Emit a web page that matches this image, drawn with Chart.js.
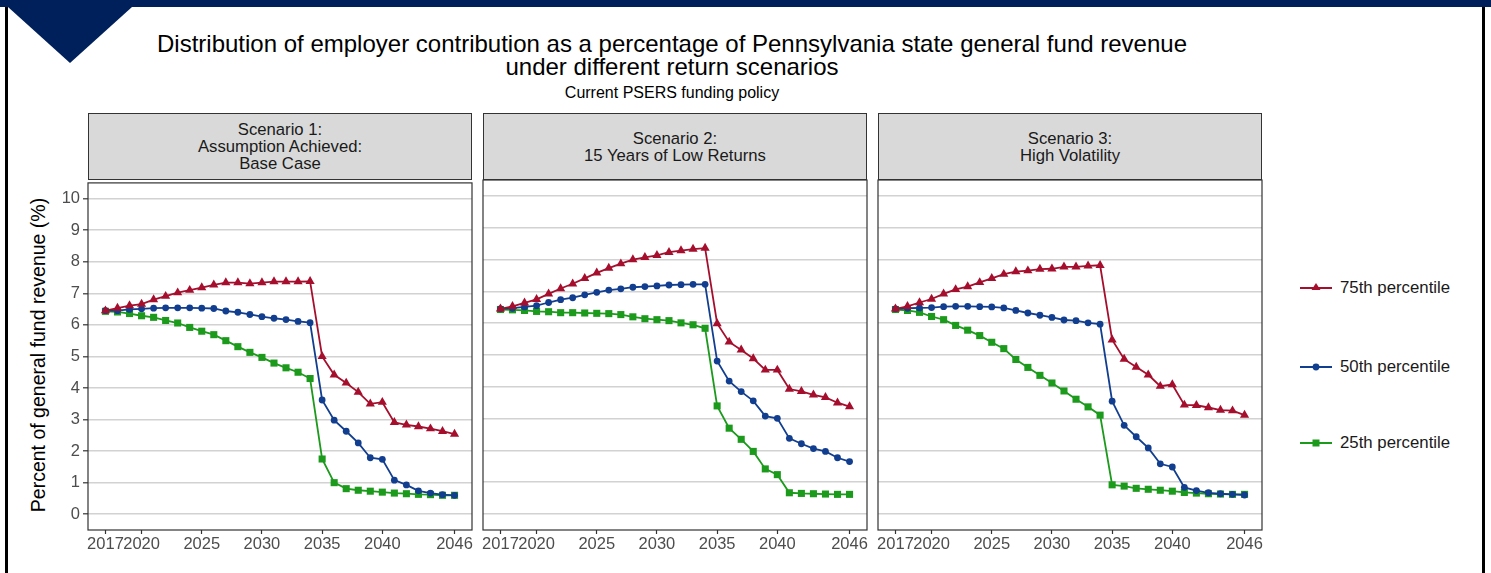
<!DOCTYPE html>
<html>
<head>
<meta charset="utf-8">
<script src="https://cdn.jsdelivr.net/npm/chart.js@4.4.0/dist/chart.umd.min.js"></script>
<style>
  body {
    margin: 0;
    width: 1491px;
    height: 573px;
    background: #fff;
    position: relative;
    overflow: hidden;
    font-family: "Liberation Sans", Arial, sans-serif;
  }
  .topbar { position: absolute; left: 0; top: 0; width: 1491px; height: 7px; background: #00205b; }
  .corner {
    position: absolute; left: 8px; top: 7px; width: 124px; height: 56px;
    background: #00205b; clip-path: polygon(0 0, 100% 0, 50% 100%);
  }
  .frame { position: absolute; top: 7px; width: 3px; height: 566px; background: #000; }
  .title { position: absolute; left: 0; width: 1344px; text-align: center; color: #000; white-space: nowrap; }
  .strip {
    position: absolute; top: 113px; height: 67px; box-sizing: border-box;
    background: #d9d9d9; border: 1px solid #333;
    display: flex; align-items: center; justify-content: center; text-align: center;
    font-size: 16.7px; line-height: 17px; color: #1a1a1a;
  }
  .ylabel {
    position: absolute; left: -162px; top: 343px; width: 400px; height: 24px;
    line-height: 24px; text-align: center; font-size: 19.5px; color: #000;
    transform: rotate(-90deg);
  }
  canvas.panel { position: absolute; top: 170px; }
  .legend-item { position: absolute; left: 1298px; height: 20px; display: flex; align-items: center; }
  .legend-item span { margin-left: 6px; font-size: 16.8px; color: #1a1a1a; }
</style>
</head>
<body>
<div class="topbar"></div>
<div class="corner"></div>
<div class="frame" style="left:5px"></div>
<div class="frame" style="left:1482px"></div>

<div class="title" style="top:30px;font-size:24px;line-height:27px">Distribution of employer contribution as a percentage of Pennsylvania state general fund revenue</div>
<div class="title" style="top:53px;font-size:24px;line-height:27px">under different return scenarios</div>
<div class="title" style="top:83px;font-size:16px;line-height:20px">Current PSERS funding policy</div>

<div class="ylabel">Percent of general fund revenue (%)</div>

<div id="strips"></div>
<canvas class="panel" id="panel1"></canvas>
<canvas class="panel" id="panel2"></canvas>
<canvas class="panel" id="panel3"></canvas>
<div id="legend"></div>

<script>
  const years = [2017, 2018, 2019, 2020, 2021, 2022, 2023, 2024, 2025, 2026,
    2027, 2028, 2029, 2030, 2031, 2032, 2033, 2034, 2035, 2036,
    2037, 2038, 2039, 2040, 2041, 2042, 2043, 2044, 2045, 2046];
  const xTicks = [2017, 2020, 2025, 2030, 2035, 2040, 2046];
  const yTicks = [0, 1, 2, 3, 4, 5, 6, 7, 8, 9, 10];

  const scenarioTitles = [
    ["Scenario 1:", "Assumption Achieved:", "Base Case"],
    ["Scenario 2:", "15 Years of Low Returns"],
    ["Scenario 3:", "High Volatility"],
  ];
  const seriesNames = ["75th percentile", "50th percentile", "25th percentile"];

  // Scenario 1: base case
  const s1p75 = [6.45, 6.53, 6.61, 6.66, 6.80, 6.91, 7.02, 7.10, 7.18, 7.27, 7.34, 7.34, 7.31, 7.34, 7.37,
    7.37, 7.37, 7.38, 5.00, 4.42, 4.16, 3.87, 3.50, 3.55, 2.91, 2.83, 2.78, 2.71, 2.63, 2.54];
  const s1p50 = [6.45, 6.45, 6.49, 6.51, 6.53, 6.54, 6.54, 6.54, 6.53, 6.52, 6.44, 6.40, 6.33, 6.26, 6.21,
    6.17, 6.11, 6.07, 3.62, 2.98, 2.63, 2.26, 1.79, 1.74, 1.08, 0.93, 0.74, 0.67, 0.62, 0.60];
  const s1p25 = [6.43, 6.41, 6.36, 6.29, 6.24, 6.14, 6.06, 5.92, 5.80, 5.69, 5.50, 5.31, 5.13, 4.97, 4.79,
    4.64, 4.50, 4.30, 1.75, 1.00, 0.81, 0.76, 0.73, 0.70, 0.67, 0.65, 0.63, 0.62, 0.60, 0.60];

  // Scenario 2: 15 years of low returns
  const s2p75 = [6.45, 6.53, 6.64, 6.75, 6.92, 7.09, 7.24, 7.41, 7.58, 7.73, 7.87, 8.00, 8.07, 8.13, 8.23,
    8.28, 8.33, 8.36, 5.99, 5.41, 5.16, 4.89, 4.53, 4.53, 3.93, 3.86, 3.75, 3.67, 3.50, 3.38];
  const s2p50 = [6.45, 6.47, 6.51, 6.55, 6.65, 6.74, 6.80, 6.89, 6.97, 7.04, 7.08, 7.13, 7.15, 7.17, 7.20,
    7.21, 7.22, 7.22, 4.81, 4.18, 3.85, 3.56, 3.08, 3.01, 2.38, 2.21, 2.06, 1.97, 1.77, 1.65];
  const s2p25 = [6.43, 6.42, 6.40, 6.37, 6.36, 6.33, 6.33, 6.32, 6.31, 6.30, 6.27, 6.20, 6.14, 6.11, 6.08,
    6.01, 5.95, 5.84, 3.40, 2.70, 2.35, 1.97, 1.42, 1.24, 0.67, 0.65, 0.64, 0.63, 0.62, 0.62];

  // Scenario 3: high volatility
  const s3p75 = [6.45, 6.53, 6.65, 6.76, 6.92, 7.06, 7.15, 7.28, 7.41, 7.54, 7.62, 7.65, 7.70, 7.71, 7.77,
    7.77, 7.80, 7.82, 5.48, 4.87, 4.62, 4.38, 4.02, 4.07, 3.43, 3.42, 3.35, 3.27, 3.25, 3.11];
  const s3p50 = [6.45, 6.47, 6.48, 6.49, 6.52, 6.53, 6.53, 6.52, 6.51, 6.48, 6.40, 6.32, 6.25, 6.18, 6.10,
    6.08, 6.01, 5.97, 3.55, 2.79, 2.43, 2.08, 1.58, 1.48, 0.84, 0.74, 0.67, 0.64, 0.62, 0.60];
  const s3p25 = [6.43, 6.40, 6.34, 6.21, 6.11, 5.93, 5.78, 5.61, 5.40, 5.20, 4.86, 4.61, 4.36, 4.12, 3.87,
    3.61, 3.37, 3.11, 0.92, 0.88, 0.81, 0.78, 0.75, 0.72, 0.68, 0.66, 0.64, 0.63, 0.62, 0.62];

  const scenarioData = [
    [s1p75, s1p50, s1p25],
    [s2p75, s2p50, s2p25],
    [s3p75, s3p50, s3p25],
  ];

  const colors = ["#a50f2d", "#123e8f", "#1c9a1c"];
  const markers = ["triangle", "circle", "rect"];
  const markerSizes = [5.3, 3.4, 5];

  const panelLefts = [88, 483, 878];
  const panelWidth = 384;
  const axisWidth = 48;

  // panel border like ggplot
  const borderPlugin = {
    id: "panelBorder",
    afterDraw(chart) {
      const { ctx, chartArea } = chart;
      ctx.save();
      ctx.strokeStyle = "#333";
      ctx.lineWidth = 1.2;
      ctx.strokeRect(chartArea.left, chartArea.top, chartArea.right - chartArea.left, chartArea.bottom - chartArea.top);
      ctx.restore();
    },
  };

  const strips = document.getElementById("strips");
  scenarioTitles.forEach((lines, i) => {
    const div = document.createElement("div");
    div.className = "strip";
    div.style.left = panelLefts[i] + "px";
    div.style.width = panelWidth + "px";
    div.innerHTML = lines.join("<br>");
    strips.appendChild(div);
  });

  for (let p = 0; p < 3; p++) {
    const canvas = document.getElementById("panel" + (p + 1));
    canvas.style.left = panelLefts[p] - axisWidth + "px";
    canvas.width = axisWidth + panelWidth + 20;
    canvas.height = 390;
    canvas.style.width = canvas.width + "px";
    canvas.style.height = canvas.height + "px";

    const datasets = scenarioData[p].map((values, s) => ({
      label: seriesNames[s],
      data: values.map((v, i) => ({ x: years[i], y: v })),
      borderColor: colors[s],
      backgroundColor: colors[s],
      borderWidth: 1.8,
      pointStyle: markers[s],
      pointRadius: markerSizes[s],
      pointBorderWidth: 0,
      pointBackgroundColor: colors[s],
      tension: 0,
    }));

    const showY = p === 0;

    new Chart(canvas.getContext("2d"), {
      type: "line",
      data: { datasets },
      options: {
        responsive: false,
        animation: false,
        layout: { padding: { top: 10, right: 20, left: 0, bottom: 0 } },
        plugins: { legend: { display: false }, tooltip: { enabled: false } },
        scales: {
          x: {
            type: "linear",
            min: 2015.55,
            max: 2047.45,
            afterBuildTicks: (scale) => {
              scale.ticks = xTicks.map((v) => ({ value: v }));
            },
            afterFit: (scale) => {
              scale.height = 30;
            },
            grid: { drawOnChartArea: false, drawTicks: true, tickLength: 4, tickColor: "#333", tickWidth: 1.2 },
            border: { display: false },
            ticks: {
              autoSkip: false,
              maxRotation: 0,
              minRotation: 0,
              padding: 1,
              color: "#4d4d4d",
              font: { family: "Liberation Sans", size: 16.5 },
              callback: (v) => String(v),
            },
          },
          y: {
            min: -0.5,
            max: 10.5,
            afterBuildTicks: (scale) => {
              scale.ticks = yTicks.map((v) => ({ value: v }));
            },
            afterFit: (scale) => {
              scale.width = axisWidth;
            },
            grid: {
              color: "#d2d2d2",
              lineWidth: 1.6,
              drawTicks: showY,
              tickLength: 5,
              tickColor: "#333",
              tickWidth: 1.2,
            },
            border: { display: false },
            ticks: {
              display: showY,
              padding: 3,
              color: "#4d4d4d",
              font: { family: "Liberation Sans", size: 16.5 },
            },
          },
        },
      },
      plugins: [borderPlugin],
    });
  }

  // legend on the right
  const legend = document.getElementById("legend");
  const legendTops = [288, 367, 443];
  seriesNames.forEach((name, s) => {
    const item = document.createElement("div");
    item.className = "legend-item";
    item.style.top = legendTops[s] - 10 + "px";
    let marker;
    if (markers[s] === "triangle") {
      marker = `<polygon points="18,5 22.5,12 13.5,12" fill="${colors[s]}"/>`;
    } else if (markers[s] === "circle") {
      marker = `<circle cx="18" cy="10" r="3.4" fill="${colors[s]}"/>`;
    } else {
      marker = `<rect x="14.5" y="6.5" width="7" height="7" fill="${colors[s]}"/>`;
    }
    item.innerHTML =
      `<svg width="36" height="20"><line x1="2" y1="10" x2="34" y2="10" stroke="${colors[s]}" stroke-width="2"/>${marker}</svg>` +
      `<span>${name}</span>`;
    legend.appendChild(item);
  });
</script>
</body>
</html>
